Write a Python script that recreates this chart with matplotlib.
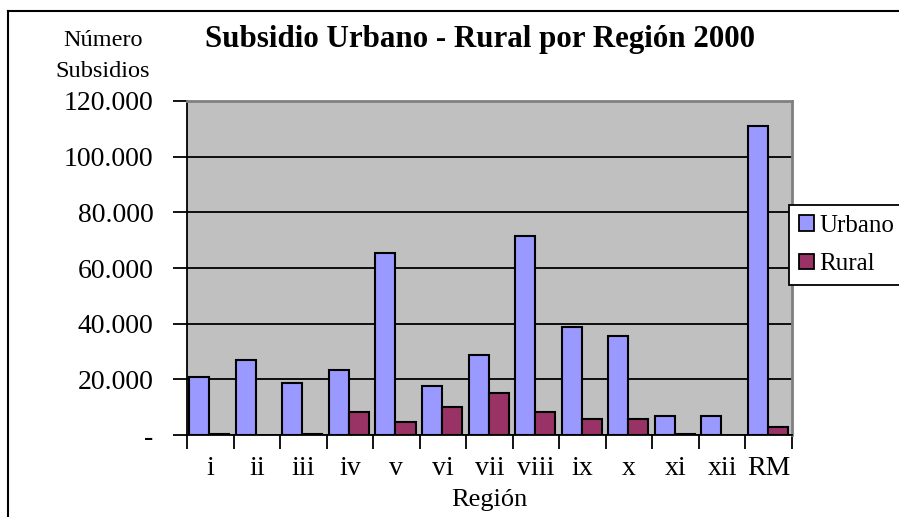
import matplotlib
matplotlib.use("Agg")
import matplotlib.pyplot as plt
from matplotlib.lines import Line2D
import numpy as np

categories = ["i", "ii", "iii", "iv", "v", "vi", "vii", "viii", "ix", "x", "xi", "xii", "RM"]
urbano = [21000, 26800, 18700, 23300, 65300, 17500, 28600, 71600, 38700, 35700, 6900, 6900, 111000]
rural = [400, 0, 400, 8100, 4700, 9900, 15200, 8100, 5700, 5700, 400, 0, 2700]
yticks = [0, 20000, 40000, 60000, 80000, 100000, 120000]
ytick_labels = ["-", "20.000", "40.000", "60.000", "80.000", "100.000", "120.000"]

plt.rcParams["font.family"] = ["Liberation Serif", "DejaVu Serif"]

W, H = 899, 517
fig = plt.figure(figsize=(W / 100, H / 100), dpi=100)
ax = fig.add_axes([187 / W, 1 - 435 / H, (792 - 187) / W, (435 - 101) / H])
ax.set_facecolor("#C0C0C0")

x = np.arange(len(categories))
bw = 0.43
ec_u = ["black" if v > 0 else "none" for v in urbano]
ec_r = ["black" if v > 0 else "none" for v in rural]
ax.bar(x - bw / 2 - 0.02, urbano, bw, color="#9999FF", edgecolor=ec_u, linewidth=1.5, label="Urbano", zorder=3)
ax.bar(x + bw / 2 - 0.02, rural, bw, color="#993366", edgecolor=ec_r, linewidth=1.5, label="Rural", zorder=3)

ax.set_xlim(-0.5, len(categories) - 0.5)
ax.set_ylim(0, 120000)
ax.set_yticks(yticks)
ax.set_yticklabels(ytick_labels, fontsize=20)
ax.yaxis.grid(True, color="black", linewidth=1.3, zorder=1)
ax.set_axisbelow(True)

ax.set_xticks(np.arange(len(categories) + 1) - 0.5)
ax.set_xticklabels([])
ax.set_xticks(x, minor=True)
ax.set_xticklabels(categories, minor=True, fontsize=20)
ax.tick_params(axis="x", which="major", direction="out", length=10, width=1.3)
ax.tick_params(axis="x", which="minor", length=0, pad=15)
ax.tick_params(axis="y", direction="out", length=10, width=1.3, pad=14)

for s in ["top", "right"]:
    ax.spines[s].set_color("#808080")
    ax.spines[s].set_linewidth(2)
for s in ["left", "bottom"]:
    ax.spines[s].set_color("black")
    ax.spines[s].set_linewidth(1.3)

fig.text(489 / W, 1 - 500 / H, "Región", ha="center", va="center", fontsize=19)
fig.text(103 / W, 1 - 56 / H, "Número\nSubsidios", ha="center", va="center", fontsize=17.5, linespacing=1.6)
fig.text(480 / W, 1 - 40 / H, "Subsidio Urbano - Rural por Región 2000", ha="center", va="center",
         fontsize=22.3, fontweight="bold")

leg = fig.legend(loc="upper left", bbox_to_anchor=(789 / W, 1 - 205 / H), fontsize=18,
                 frameon=True, fancybox=False, shadow=False, edgecolor="black", facecolor="white",
                 framealpha=1, handlelength=0.6, handleheight=0.6, handletextpad=0.2,
                 labelspacing=0.65, borderpad=0.4, borderaxespad=0)
leg.get_frame().set_linewidth(1.3)
for h in leg.legend_handles:
    h.set_linewidth(1.3)

# outer chart border (left and top visible)
fig.add_artist(Line2D([8 / W, 8 / W], [0, 1 - 11 / H], color="black", linewidth=1.5, transform=fig.transFigure))
fig.add_artist(Line2D([8 / W, 1], [1 - 11 / H, 1 - 11 / H], color="black", linewidth=1.5, transform=fig.transFigure))

fig.savefig("out.png", dpi=100)
